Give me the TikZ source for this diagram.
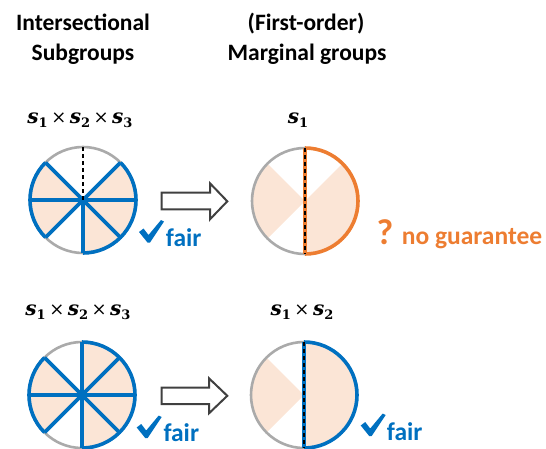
\documentclass[tikz,border=0pt]{standalone}
\usepackage{fontspec}
\setmainfont{Carlito}
\newfontfamily\djs{DejaVu Serif}
\definecolor{bluec}{RGB}{0,112,192}
\definecolor{orangec}{RGB}{237,125,49}
\definecolor{sectc}{RGB}{251,229,214}
\definecolor{grayc}{RGB}{170,170,170}
\definecolor{arrowc}{RGB}{64,64,64}
\newcommand\svar[1]{{\bfseries\itshape s}\raisebox{-4.5pt}{\fontsize{13}{13}\selectfont\bfseries #1}}
\newcommand\tms{\hspace{3.5pt}{\fontsize{18}{18}\selectfont ×}\hspace{3.5pt}}
\tikzset{
  sect/.style={fill=sectc},
  grayarc/.style={draw=grayc,line width=2.6},
  bluel/.style={draw=bluec,line width=3.6,line join=round},
  orangel/.style={draw=orangec,line width=3.6,line join=round},
  dashblk/.style={draw=black,line width=1.4,dash pattern=on 4 off 3},
  head/.style={font=\fontsize{23.5}{28}\selectfont\bfseries,inner sep=0,anchor=base},
  mathlbl/.style={font=\djs\fontsize{20}{24}\selectfont,inner sep=0,anchor=base},
  fairtxt/.style={font=\fontsize{25.5}{30}\selectfont\bfseries,text=bluec,inner sep=0,anchor=base west},
  ngtxt/.style={font=\fontsize{25.5}{30}\selectfont\bfseries,text=orangec,inner sep=0,anchor=base west},
  qtxt/.style={font=\fontsize{36}{40}\selectfont\bfseries,text=orangec,inner sep=0,anchor=base west},
  blockarrow/.style={draw=arrowc,fill=white,line width=2,line join=miter},
}
\newcommand\mycheck[1]{\fill[bluec,shift={#1}] (0,-12.5) -- (4.5,-9) -- (9.5,-15.5) -- (22,-0.5) -- (25,-2) -- (11,-23) -- (8.5,-23) -- cycle;}
\begin{document}
\begin{tikzpicture}[x=1pt,y=1pt]
\useasboundingbox (0,0) rectangle (546,-448);

% headings
\node[head] (h1a) at (83,-30) {Intersectional};
\node[head] (h1b) at (83,-60) {Subgroups};
\node[head] (h2a) at (306,-30) {(First-order)};
\node[head] (h2b) at (307,-60) {Marginal groups};

% math labels
\node[mathlbl] (m1) at (80,-123) {\svar{1}\tms\svar{2}\tms\svar{3}};
\node[mathlbl] (m2) at (298,-123) {\svar{1}};
\node[mathlbl] (m3) at (78,-315) {\svar{1}\tms\svar{2}\tms\svar{3}};
\node[mathlbl] (m4) at (302,-315) {\svar{1}\tms\svar{2}};

% circle top-left
\begin{scope}[shift={(83,-200)}]
 \fill[sect] (0,0) -- (135:53) arc[start angle=135,end angle=225,radius=53] -- cycle;
 \fill[sect] (0,0) -- (270:53) arc[start angle=270,end angle=405,radius=53] -- cycle;
 \draw[grayarc] (0,0) circle[radius=53];
 \draw[bluel] (135:53) arc[start angle=135,end angle=225,radius=53];
 \draw[bluel] (270:53) arc[start angle=270,end angle=405,radius=53];
 \foreach \a in {0,45,135,180,225,270,315} \draw[bluel] (0,0) -- (\a:53);
 \draw[dashblk] (0,0) -- (90:53);
\end{scope}

% circle top-right
\begin{scope}[shift={(305,-201)}]
 \fill[sect] (0,0) -- (135:53) arc[start angle=135,end angle=225,radius=53] -- cycle;
 \fill[sect] (0,0) -- (270:53) arc[start angle=270,end angle=405,radius=53] -- cycle;
 \draw[grayarc] (90:53) arc[start angle=90,end angle=270,radius=53];
 \draw[orangel] (270:53) arc[start angle=270,end angle=450,radius=53];
 \draw[orangel] (90:53) -- (270:53);
 \draw[dashblk] (90:53) -- (270:53);
\end{scope}

% circle bottom-left
\begin{scope}[shift={(82,-395)}]
 \fill[sect] (0,0) -- (0:53) arc[start angle=0,end angle=90,radius=53] -- cycle;
 \fill[sect] (0,0) -- (135:53) arc[start angle=135,end angle=225,radius=53] -- cycle;
 \fill[sect] (0,0) -- (270:53) arc[start angle=270,end angle=360,radius=53] -- cycle;
 \draw[grayarc] (0,0) circle[radius=53];
 \draw[bluel] (0:53) arc[start angle=0,end angle=90,radius=53];
 \draw[bluel] (135:53) arc[start angle=135,end angle=225,radius=53];
 \draw[bluel] (270:53) arc[start angle=270,end angle=360,radius=53];
 \foreach \a in {0,45,90,135,180,225,270,315} \draw[bluel] (0,0) -- (\a:53);
\end{scope}

% circle bottom-right
\begin{scope}[shift={(304,-395)}]
 \fill[sect] (0,0) -- (135:53) arc[start angle=135,end angle=225,radius=53] -- cycle;
 \fill[sect] (0,0) -- (270:53) arc[start angle=270,end angle=450,radius=53] -- cycle;
 \draw[grayarc] (90:53) arc[start angle=90,end angle=270,radius=53];
 \draw[bluel] (270:53) arc[start angle=270,end angle=450,radius=53];
 \draw[bluel] (90:53) -- (270:53);
 \draw[dashblk] (90:53) -- (270:53);
\end{scope}

% block arrows
\draw[blockarrow] (161.7,-192.7) -- (210,-192.7) -- (210,-183.3) -- (227.3,-201.3) -- (210,-219.3) -- (210,-209.3) -- (161.7,-209.3) -- cycle;
\draw[blockarrow] (161.7,-387.7) -- (209,-387.7) -- (209,-378.3) -- (227.3,-395.8) -- (209,-413.3) -- (209,-404) -- (161.7,-404) -- cycle;

% fair / no guarantee
\mycheck{(139,-219.5)}
\node[fairtxt] (f1) at (165.7,-246) {fair};
\node[qtxt] (q) at (376.5,-244) {?};
\node[ngtxt] (ng) at (401.7,-244) {no guarantee};
\mycheck{(136.7,-415)}
\node[fairtxt] (f2) at (163.3,-441.7) {fair};
\mycheck{(360.7,-413)}
\node[fairtxt] (f3) at (386.7,-440) {fair};
\end{tikzpicture}
\end{document}
